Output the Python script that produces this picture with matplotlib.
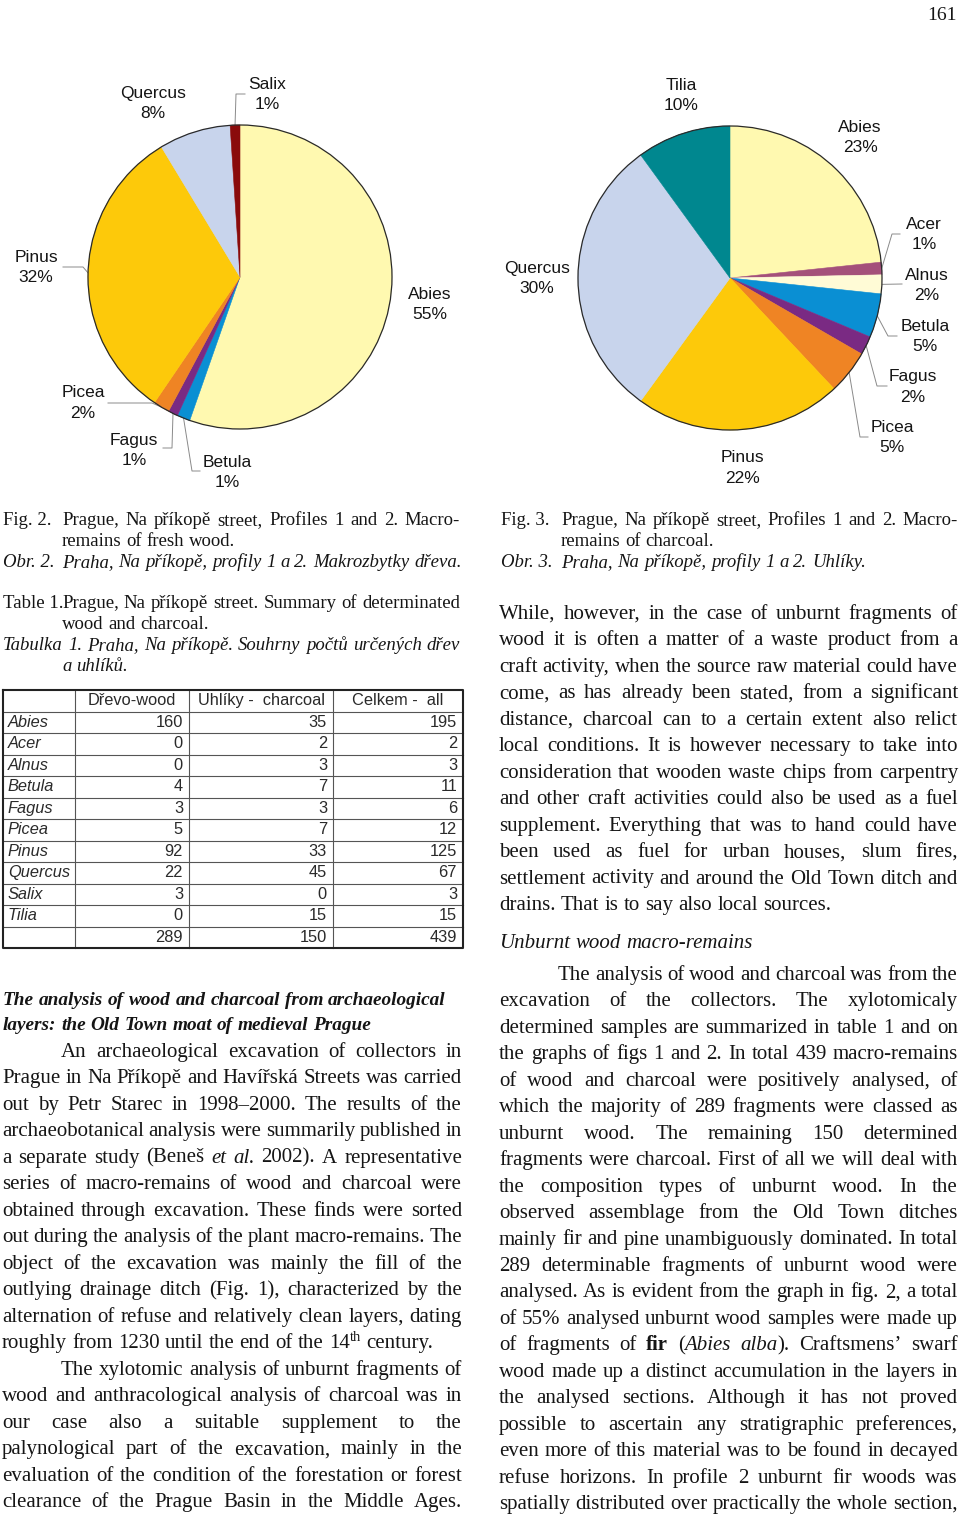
import re
import numpy as np
import matplotlib.pyplot as plt
from matplotlib.font_manager import FontProperties

W, H = 960, 1516

# table 1 data
species = ['Abies', 'Acer', 'Alnus', 'Betula', 'Fagus', 'Picea', 'Pinus', 'Quercus', 'Salix', 'Tilia']
wood = [160, 0, 0, 4, 3, 5, 92, 22, 3, 0]
charcoal = [35, 2, 3, 7, 3, 7, 33, 45, 0, 15]
header = ['Dřevo-wood', 'Uhlíky -  charcoal', 'Celkem -  all']

colors = {
    'Abies': '#fff9b0', 'Acer': '#a4507a', 'Alnus': '#fffbd6', 'Betula': '#0a8fd3',
    'Fagus': '#7a2a83', 'Picea': '#ef8424', 'Pinus': '#fdc90a', 'Quercus': '#c8d4ec',
    'Salix': '#8a0b0b', 'Tilia': '#00878f',
}

# label layout for the pies: centre of label block, leader elbows (from the wedge outwards)
lab_fig2 = {
    'Abies': (430, 304.5, None), 'Betula': (227, 472.5, [(192, 471), (200, 471)]),
    'Fagus': (134, 450.5, [(172, 448), (163, 448)]), 'Picea': (83, 403, [(152, 403), (108, 403)]),
    'Pinus': (36, 267.5, [(83, 267), (63, 267)]), 'Quercus': (153, 103.5, None),
    'Salix': (267, 94.5, [(236, 94), (245, 94)]),
}
lab_fig3 = {
    'Abies': (860, 137.5, None), 'Acer': (924, 234.5, [(892, 234), (900, 234)]),
    'Alnus': (927, 285.5, [(902, 284)]), 'Betula': (925, 336.5, [(888, 336), (897, 336)]),
    'Fagus': (913, 387, [(877, 386), (887, 386)]), 'Picea': (892, 437.5, [(860, 437), (868, 437)]),
    'Pinus': (742, 468, None), 'Quercus': (537, 278.5, None), 'Tilia': (681, 95.5, None),
}

LEFT_BODY = [
    '>An archaeological excavation of collectors in',
    'Prague in Na Příkopě and Havířská Streets was carried',
    'out by Petr Starec in 1998–2000. The results of the',
    'archaeobotanical analysis were summarily published in',
    'a separate study (Beneš *et* *al.* 2002). A representative',
    'series of macro-remains of wood and charcoal were',
    'obtained through excavation. These finds were sorted',
    'out during the analysis of the plant macro-remains. The',
    'object of the excavation was mainly the fill of the',
    'outlying drainage ditch (Fig. 1), characterized by the',
    'alternation of refuse and relatively clean layers, dating',
    'roughly from 1230 until the end of the 14^th^ century.|',
    '>The xylotomic analysis of unburnt fragments of',
    'wood and anthracological analysis of charcoal was in',
    'our case also a suitable supplement to the',
    'palynological part of the excavation, mainly in the',
    'evaluation of the condition of the forestation or forest',
    'clearance of the Prague Basin in the Middle Ages.',
]
RIGHT_TOP = [
    'While, however, in the case of unburnt fragments of',
    'wood it is often a matter of a waste product from a',
    'craft activity, when the source raw material could have',
    'come, as has already been stated, from a significant',
    'distance, charcoal can to a certain extent also relict',
    'local conditions. It is however necessary to take into',
    'consideration that wooden waste chips from carpentry',
    'and other craft activities could also be used as a fuel',
    'supplement. Everything that was to hand could have',
    'been used as fuel for urban houses, slum fires,',
    'settlement activity and around the Old Town ditch and',
    'drains. That is to say also local sources.|',
]
RIGHT_BOTTOM = [
    '>The analysis of wood and charcoal was from the',
    'excavation of the collectors. The xylotomicaly',
    'determined samples are summarized in table 1 and on',
    'the graphs of figs 1 and 2. In total 439 macro-remains',
    'of wood and charcoal were positively analysed, of',
    'which the majority of 289 fragments were classed as',
    'unburnt wood. The remaining 150 determined',
    'fragments were charcoal. First of all we will deal with',
    'the composition types of unburnt wood. In the',
    'observed assemblage from the Old Town ditches',
    'mainly fir and pine unambiguously dominated. In total',
    '289 determinable fragments of unburnt wood were',
    'analysed. As is evident from the graph in fig. 2, a total',
    'of 55% analysed unburnt wood samples were made up',
    'of fragments of **fir** (*Abies* *alba*). Craftsmens’ swarf',
    'wood made up a distinct accumulation in the layers in',
    'the analysed sections. Although it has not proved',
    'possible to ascertain any stratigraphic preferences,',
    'even more of this material was to be found in decayed',
    'refuse horizons. In profile 2 unburnt fir woods was',
    'spatially distributed over practically the whole section,',
]

SERIF = 'Liberation Serif'
SANS = 'Liberation Sans'
INK = '#151515'

fig = plt.figure(figsize=(W / 100, H / 100), dpi=100)
page = fig.add_axes([0, 0, 1, 1])
page.set_xlim(0, W)
page.set_ylim(H, 0)
page.axis('off')
renderer = fig.canvas.get_renderer()


def fprop(style, size, family=SERIF):
    return FontProperties(family=family, size=size,
                          style='italic' if 'i' in style else 'normal',
                          weight='bold' if 'b' in style else 'normal')


def text_w(s, prop):
    return renderer.get_text_width_height_descent(s, prop, ismath=False)[0]


TOK = re.compile(r'(\*\*.+?\*\*|\*.+?\*|\^.+?\^)')


def split_word(word, style):
    out = []
    for part in TOK.split(word):
        if not part:
            continue
        if part.startswith('**'):
            out.append((part[2:-2], style + 'b', False))
        elif part.startswith('*'):
            out.append((part[1:-1], style + 'i', False))
        elif part.startswith('^'):
            out.append((part[1:-1], style, True))
        else:
            out.append((part, style, False))
    return out


def draw_line(x0, x1, y, text, style='', size=15, justify=True):
    words = [split_word(w, style) for w in text.split()]
    sup_size = size * 0.7
    widths = []
    for segs in words:
        wd = 0
        for s, st, sup in segs:
            wd += text_w(s, fprop(st, sup_size if sup else size))
        widths.append(wd)
    base = fprop(style, size)
    space = text_w('a a', base) - text_w('aa', base)
    if justify and len(words) > 1:
        gap = (x1 - x0 - sum(widths)) / (len(words) - 1)
    else:
        gap = space
    x = x0
    for segs, wd in zip(words, widths):
        for s, st, sup in segs:
            p = fprop(st, sup_size if sup else size)
            yy = y - size * 100 / 72 * 0.36 if sup else y
            page.text(x, yy, s, fontproperties=p, va='baseline', ha='left', color=INK)
            x += text_w(s, p) + (0.5 if sup else 0)
        x += gap


def draw_column(lines, x0, x1, y0, step, indent=59, style='', size=15):
    for k, ln in enumerate(lines):
        xs = x0
        if ln.startswith('>'):
            ln = ln[1:]
            xs = x0 + indent
        just = not ln.endswith('|')
        ln = ln.rstrip('|')
        draw_line(xs, x1, y0 + k * step, ln, style, size, just)


def draw_pie(cx, cy, r, names, vals, layout):
    pad = 1.02
    ax = fig.add_axes([(cx - r * pad) / W, 1 - (cy + r * pad) / H, 2 * r * pad / W, 2 * r * pad / H])
    wedges, _ = ax.pie(vals, colors=[colors[n] for n in names], startangle=90,
                       counterclock=False, radius=1)
    for wd in wedges:
        wd.set_edgecolor(wd.get_facecolor())
        wd.set_linewidth(0.4)
    ax.add_patch(plt.Circle((0, 0), 1, fill=False, lw=0.9, ec='#2a2a2a'))
    ax.set_xlim(-pad, pad)
    ax.set_ylim(-pad, pad)
    ax.set_aspect('equal')
    ax.axis('off')
    tot = sum(vals)
    cum = np.cumsum([0] + list(vals))
    for i, n in enumerate(names):
        tx, ty, elbows = layout[n]
        pct = round(100 * vals[i] / tot)
        page.text(tx, ty, f'{n}\n{pct}%', ha='center', va='center', multialignment='center',
                  fontproperties=fprop('', 12.5, SANS), color=INK, linespacing=1.42)
        if elbows:
            th = np.radians((cum[i] + vals[i] / 2) / tot * 360)
            ex, ey = cx + r * np.sin(th), cy - r * np.cos(th)
            pts = [(ex, ey)] + elbows
            page.plot([p[0] for p in pts], [p[1] for p in pts], color='#8a8a8a', lw=0.7)


# pies: fresh wood and charcoal
n2 = [s for s, v in zip(species, wood) if v > 0]
v2 = [v for v in wood if v > 0]
n3 = [s for s, v in zip(species, charcoal) if v > 0]
v3 = [v for v in charcoal if v > 0]
draw_pie(240, 277, 152, n2, v2, lab_fig2)
draw_pie(730, 278, 152, n3, v3, lab_fig3)

# page number
page.text(957, 20, '161', ha='right', va='baseline', fontproperties=fprop('', 14), color=INK)

# captions
CS = 13.5
page.text(3, 525, 'Fig. 2.', fontproperties=fprop('', CS), va='baseline', color=INK)
draw_line(62, 460, 525, 'Prague, Na příkopě street, Profiles 1 and 2. Macro-', '', CS, True)
draw_line(62, 460, 546, 'remains of fresh wood.', '', CS, False)
page.text(3, 567, 'Obr. 2.', fontproperties=fprop('i', CS), va='baseline', color=INK)
draw_line(62, 460, 567, 'Praha, Na příkopě, profily 1 a 2. Makrozbytky dřeva.', 'i', CS, False)

page.text(501, 525, 'Fig. 3.', fontproperties=fprop('', CS), va='baseline', color=INK)
draw_line(561, 958, 525, 'Prague, Na příkopě street, Profiles 1 and 2. Macro-', '', CS, True)
draw_line(561, 958, 546, 'remains of charcoal.', '', CS, False)
page.text(501, 567, 'Obr. 3.', fontproperties=fprop('i', CS), va='baseline', color=INK)
draw_line(561, 958, 567, 'Praha, Na příkopě, profily 1 a 2. Uhlíky.', 'i', CS, False)

page.text(3, 608, 'Table 1.', fontproperties=fprop('', CS), va='baseline', color=INK)
draw_line(62, 460, 608, 'Prague, Na příkopě street. Summary of determinated', '', CS, True)
draw_line(62, 460, 629, 'wood and charcoal.', '', CS, False)
draw_line(3, 460, 650, 'Tabulka 1. Praha, Na příkopě. Souhrny počtů určených dřev', 'i', CS, True)
draw_line(62, 460, 671, 'a uhlíků.', 'i', CS, False)

# table 1
col_x = [3, 75, 189, 333, 463]
row_top, row_h = 690, 21.5
nrows = len(species) + 2
tbot = row_top + nrows * row_h
tprop = fprop('', 11.8, SANS)
tiprop = fprop('i', 11.8, SANS)
TC = '#2a2a2a'
for k in range(1, nrows):
    page.plot([col_x[0], col_x[-1]], [row_top + k * row_h] * 2, color='#555555', lw=0.8)
for x in col_x[1:-1]:
    page.plot([x, x], [row_top, tbot], color='#555555', lw=0.8)
page.plot([col_x[0], col_x[-1], col_x[-1], col_x[0], col_x[0]],
          [row_top, row_top, tbot, tbot, row_top], color='#222222', lw=1.5)
for j, h in enumerate(header):
    page.text((col_x[j + 1] + col_x[j + 2]) / 2, row_top + row_h / 2, h, ha='center', va='center',
              fontproperties=tprop, color=TC)
totals = [w + c for w, c in zip(wood, charcoal)]
rows = list(zip(species, wood, charcoal, totals)) + [('', sum(wood), sum(charcoal), sum(totals))]
for i, (sp, a, b, c) in enumerate(rows):
    yc = row_top + (i + 1.5) * row_h
    page.text(8, yc, sp, ha='left', va='center', fontproperties=tiprop, color=TC)
    for j, v in enumerate([a, b, c]):
        page.text(col_x[j + 2] - 6, yc, str(v), ha='right', va='center', fontproperties=tprop, color=TC)

# headings and body text
BS = 15
draw_column(['The analysis of wood and charcoal from archaeological|',
             'layers: the Old Town moat of medieval Prague|'], 3, 460, 1005, 24.5, style='bi', size=13.9)
draw_column(LEFT_BODY, 2, 462, 1057, 26.47, size=BS)
draw_column(RIGHT_TOP, 499, 958, 619, 26.45, size=BS)
draw_line(499, 958, 948, 'Unburnt wood macro-remains', 'i', BS, False)
draw_column(RIGHT_BOTTOM, 499, 958, 980, 26.45, size=BS)

fig.savefig('out.png', dpi=100, facecolor='white')
